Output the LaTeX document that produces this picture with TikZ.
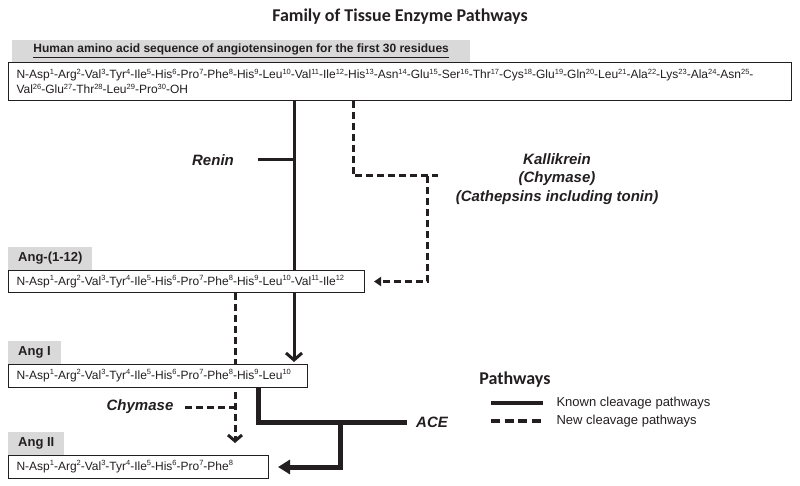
\documentclass[tikz,border=0pt]{standalone}
\usepackage{fontspec}
\setmainfont{Liberation Sans}
\newfontfamily\calib{Carlito}
\usetikzlibrary{arrows.meta,backgrounds}
\definecolor{ink}{RGB}{35,31,32}
\definecolor{hdrgray}{RGB}{217,217,217}
\newcommand\su[1]{\raisebox{0.4em}{\fontsize{7.5}{8}\selectfont #1}}
\newcommand\seqfont{\fontsize{12}{15}\selectfont}
\begin{document}
\begin{tikzpicture}[x=1pt,y=-1pt,
  seq/.style={draw=ink, line width=1pt, fill=white, anchor=north west, inner xsep=8pt, inner ysep=0pt, align=left, font=\seqfont, text=ink},
  hdr/.style={fill=hdrgray, anchor=south west, inner xsep=10pt, inner ysep=0pt, minimum height=23pt, font=\bfseries\fontsize{13}{15}\selectfont, text=ink},
  enz/.style={font=\bfseries\itshape\fontsize{15}{18.5}\selectfont, text=ink},
  big/.style={font=\calib\bfseries\fontsize{18}{20}\selectfont, text=ink},
  known/.style={draw=ink, line width=3pt},
  newp/.style={draw=ink, line width=3pt, dash pattern=on 7pt off 4pt},
  legtext/.style={anchor=west, font=\fontsize{13}{15}\selectfont, text=ink}]
\useasboundingbox (0,0) rectangle (800,486);

\node[big] (title) at (400,17) {Family of Tissue Enzyme Pathways};

\node[fill=hdrgray, anchor=south west, minimum width=458pt, minimum height=22pt, inner sep=0pt,
      font=\bfseries\fontsize{12}{14}\selectfont, text=ink] (h0) at (12,62)
  {\underline{Human amino acid sequence of angiotensinogen for the first 30 residues}};
\node[seq, text width=767pt, minimum height=38pt] (s0) at (8,62)
  {N-Asp\su{1}-Arg\su{2}-Val\su{3}-Tyr\su{4}-Ile\su{5}-His\su{6}-Pro\su{7}-Phe\su{8}-His\su{9}-Leu\su{10}-Val\su{11}-Ile\su{12}-His\su{13}-Asn\su{14}-Glu\su{15}-Ser\su{16}-Thr\su{17}-Cys\su{18}-Glu\su{19}-Gln\su{20}-Leu\su{21}-Ala\su{22}-Lys\su{23}-Ala\su{24}-Asn\su{25}-\\
   Val\su{26}-Glu\su{27}-Thr\su{28}-Leu\su{29}-Pro\su{30}-OH};

\node[hdr] (h12) at (8,270) {Ang-(1-12)};
\node[seq, text width=340pt, minimum height=22pt] (s12) at (8,270)
  {N-Asp\su{1}-Arg\su{2}-Val\su{3}-Tyr\su{4}-Ile\su{5}-His\su{6}-Pro\su{7}-Phe\su{8}-His\su{9}-Leu\su{10}-Val\su{11}-Ile\su{12}};

\node[hdr] (h1) at (8,364) {Ang I};
\node[seq, text width=283pt, minimum height=23pt] (s1) at (8,364)
  {N-Asp\su{1}-Arg\su{2}-Val\su{3}-Tyr\su{4}-Ile\su{5}-His\su{6}-Pro\su{7}-Phe\su{8}-His\su{9}-Leu\su{10}};

\node[hdr] (h2) at (8,455) {Ang II};
\node[seq, text width=244pt, minimum height=23pt] (s2) at (8,455)
  {N-Asp\su{1}-Arg\su{2}-Val\su{3}-Tyr\su{4}-Ile\su{5}-His\su{6}-Pro\su{7}-Phe\su{8}};

\node[enz] (renin) at (213,160) {Renin};
\node[enz, align=center] (kal) at (557,179) {Kallikrein\\(Chymase)\\(Cathepsins including tonin)};
\node[enz] (chy) at (140,407) {Chymase};
\node[enz] (ace) at (432,422) {ACE};

\coordinate (rt) at (258,160);
\coordinate (kj) at (427,176);
\coordinate (kend) at (438,176);
\coordinate (chs) at (185,407);
\coordinate (acej) at (340,422);
\coordinate (aceend) at (407,422);

\begin{scope}[on background layer]
  % renin
  \draw[known, -{Straight Barb[length=7pt,width=16pt]}] (294,0 |- s0.south) -- ([yshift=2pt]294,0 |- s1.north);
  \draw[known] (rt) -- (294,0 |- rt);
  % kallikrein
  \draw[newp] (353,0 |- s0.south) |- (kend);
  \draw[newp, -{Triangle[length=7pt,width=9pt]}] (kj) |- ([xshift=9pt]s12.east);
  % chymase
  \draw[newp, -{Straight Barb[length=6pt,width=14pt]}] (235,0 |- s12.south) -- ([yshift=12pt]235,0 |- s2.north);
  \draw[newp] (chs) -- (235,0 |- chs);
  % ACE
  \draw[known, line width=5pt] (258,0 |- s1.south) |- (aceend);
  \draw[known, line width=5pt, -{Triangle[length=12pt,width=14pt]}] (acej) |- ([xshift=9pt]s2.east);
\end{scope}

% legend
\node[big] (leg) at (515,380) {Pathways};
\coordinate (k1) at (491,403);
\coordinate (k2) at (543,403);
\coordinate (n1) at (491,421);
\coordinate (n2) at (543,421);
\draw[known, line width=3.5pt] (k1) -- (k2);
\draw[newp, line width=3.5pt, dash pattern=on 9pt off 4.5pt] (n1) -- (n2);
\node[legtext] (kt) at (553,403) {Known cleavage pathways};
\node[legtext] (nt) at (553,421) {New cleavage pathways};
\end{tikzpicture}
\end{document}
